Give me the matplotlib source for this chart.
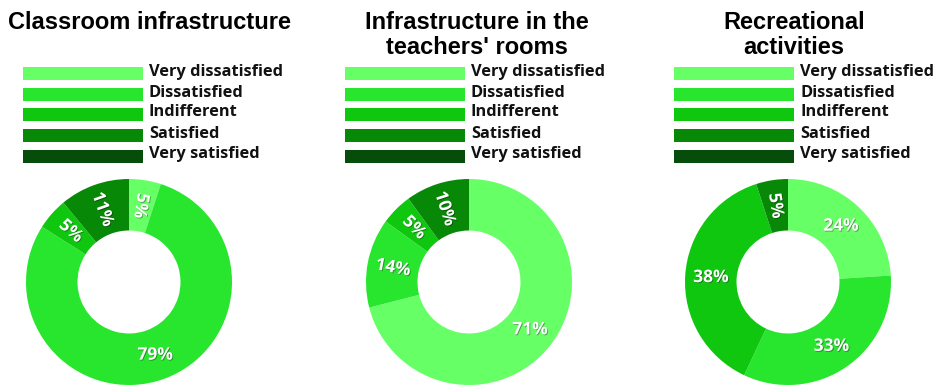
import numpy as np
import matplotlib.pyplot as plt
import matplotlib.patheffects as pe
from matplotlib.patches import Rectangle

categories = ["Very dissatisfied", "Dissatisfied", "Indifferent", "Satisfied", "Very satisfied"]
colors = ["#66ff66", "#28e52e", "#10c710", "#078807", "#064c0a"]

titles = ["Classroom infrastructure",
          "Infrastructure in the\nteachers' rooms",
          "Recreational\nactivities"]
classroom = [5, 79, 5, 11, 0]
teachers_rooms = [71, 14, 5, 10, 0]
recreational = [24, 33, 38, 5, 0]
series = [classroom, teachers_rooms, recreational]

# layout in pixels (figure is 938 x 385)
W, H = 938, 385
centers_x = [129, 469, 788]
center_y = 282
radius = 103
title_x = [149, 477, 794]
legend_x = [23, 345, 674]
row_y = [73.5, 94.5, 114, 135, 156]

fig = plt.figure(figsize=(W / 100, H / 100), dpi=100)

shadow = [pe.SimplePatchShadow(offset=(0.6, -0.6), shadow_rgbFace="k", alpha=0.35), pe.Normal()]

for cx, vals in zip(centers_x, series):
    ax = fig.add_axes([(cx - radius) / W, (H - center_y - radius) / H, 2 * radius / W, 2 * radius / H])
    wedges, _ = ax.pie(vals, colors=colors, startangle=90, counterclock=False,
                       wedgeprops=dict(width=0.5, linewidth=0))
    ax.set_xlim(-1, 1)
    ax.set_ylim(-1, 1)
    ax.set_aspect("equal")
    ax.axis("off")
    for w, v in zip(wedges, vals):
        if v == 0:
            continue
        ang = np.deg2rad((w.theta1 + w.theta2) / 2)
        x, y = 0.75 * np.cos(ang), 0.75 * np.sin(ang)
        rot = 0
        if v < 20:
            rot = np.rad2deg(ang) - 180
        ax.text(x, y, f"{v}%", ha="center", va="center", rotation=rot, rotation_mode="anchor",
                color="white", fontsize=12.5, fontweight="bold", family="Open Sans",
                path_effects=shadow)

over = fig.add_axes([0, 0, 1, 1])
over.set_xlim(0, W)
over.set_ylim(H, 0)
over.axis("off")
over.patch.set_alpha(0)

for tx, t in zip(title_x, titles):
    over.text(tx, 11, t, ha="center", va="top", fontsize=17, fontweight="bold",
              family="Liberation Sans", linespacing=1.1, color="black")

for lx in legend_x:
    for yy, cat, col in zip(row_y, categories, colors):
        over.add_patch(Rectangle((lx, yy - 6.5), 120, 13, facecolor=col, edgecolor="none"))
        over.text(lx + 126, yy - 1.5, cat, ha="left", va="center", fontsize=11.8,
                  fontweight="bold", family="Open Sans", color="#111111")

fig.savefig("out.png", dpi=100)
